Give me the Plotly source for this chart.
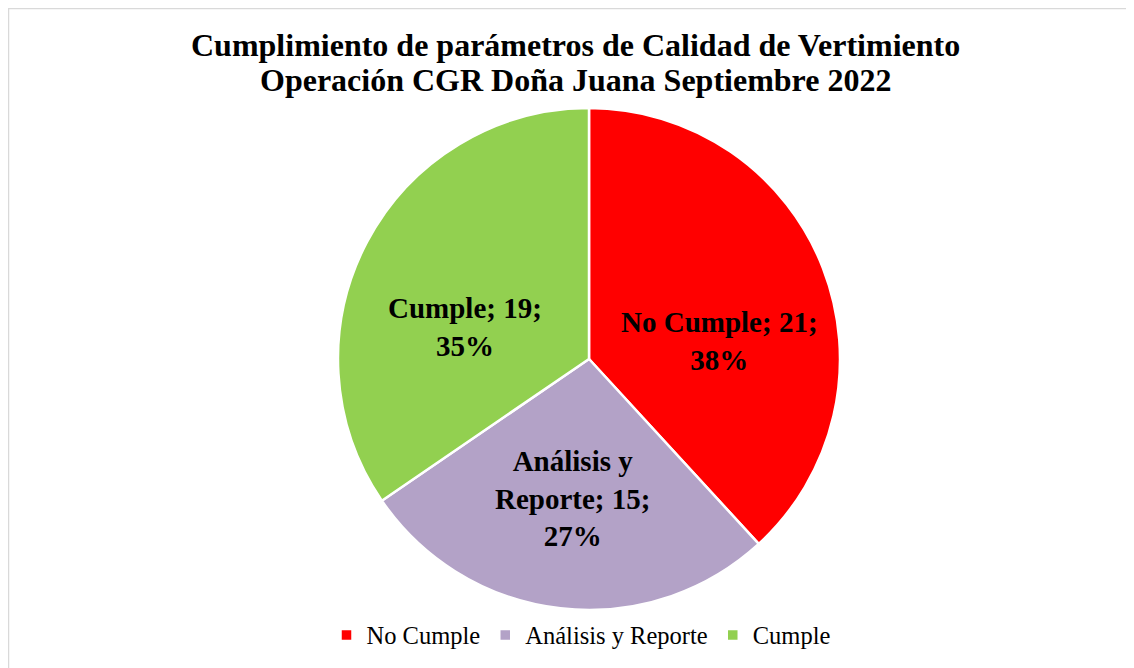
import math
import plotly.graph_objects as go

categories = ["No Cumple", "Análisis y Reporte", "Cumple"]
values = [21, 15, 19]
colors = ["#FF0000", "#B3A2C7", "#92D050"]
label_lines = ["No Cumple;", "Análisis y<br>Reporte;", "Cumple;"]
title_lines = ["Cumplimiento de parámetros de Calidad de Vertimiento",
               "Operación CGR Doña Juana Septiembre 2022"]

total = sum(values)
texts = [f"{l} {v};<br>{round(v / total * 100)}%" for l, v in zip(label_lines, values)]

W, H = 1134, 668
OFF = 8  # page body margin
cx, cy, r = 589 - OFF, 359 - OFF, 251

fig = go.Figure(go.Pie(
    labels=categories,
    values=values,
    textinfo="none",
    sort=False,
    direction="clockwise",
    rotation=0,
    marker=dict(colors=colors, line=dict(color="white", width=2.5)),
    domain=dict(x=[(cx - r) / W, (cx + r) / W], y=[1 - (cy + r) / H, 1 - (cy - r) / H]),
    hoverinfo="label+value+percent",
))

annotations = []
for line, yc in zip(title_lines, [45, 80]):
    annotations.append(dict(
        text=f"<b>{line}</b>", xref="paper", yref="paper",
        x=(575 - OFF) / W, y=1 - (yc - OFF) / H, xanchor="center", yanchor="middle",
        showarrow=False, font=dict(family="Liberation Serif", size=32, color="black"),
    ))

# data labels placed at each slice's mid angle (clockwise from 12 o'clock)
cum = 0
label_font = 29
for txt, v in zip(texts, values):
    mid = (cum + v / 2) / total * 2 * math.pi
    cum += v
    d = 0.56 * r
    px = cx + d * math.sin(mid)
    py = cy - d * math.cos(mid)
    n_lines = txt.count("<br>") + 1
    if math.cos(mid) > 0:
        py += n_lines * label_font * 1.15 / 2
    annotations.append(dict(
        text=f"<b>{txt}</b>", xref="paper", yref="paper",
        x=px / W, y=1 - py / H, xanchor="center", yanchor="middle",
        showarrow=False, align="center",
        font=dict(family="Liberation Serif", size=label_font, color="black"),
    ))

fig.update_layout(
    width=W, height=H,
    margin=dict(l=0, r=0, t=0, b=0),
    paper_bgcolor="white",
    annotations=annotations,
    legend=dict(
        orientation="h", x=(581 - OFF) / W, xanchor="center", y=1 - (635 - OFF) / H, yanchor="middle",
        font=dict(family="Liberation Serif", size=24.5, color="black"),
        itemwidth=30, tracegroupgap=0,
    ),
    shapes=[dict(type="rect", xref="paper", yref="paper",
                 x0=0.5 / W, x1=1.01, y0=-0.01, y1=1 - 0.5 / H,
                 line=dict(color="#D9D9D9", width=1.5), fillcolor="rgba(0,0,0,0)")],
)

fig.write_html("out.html")
